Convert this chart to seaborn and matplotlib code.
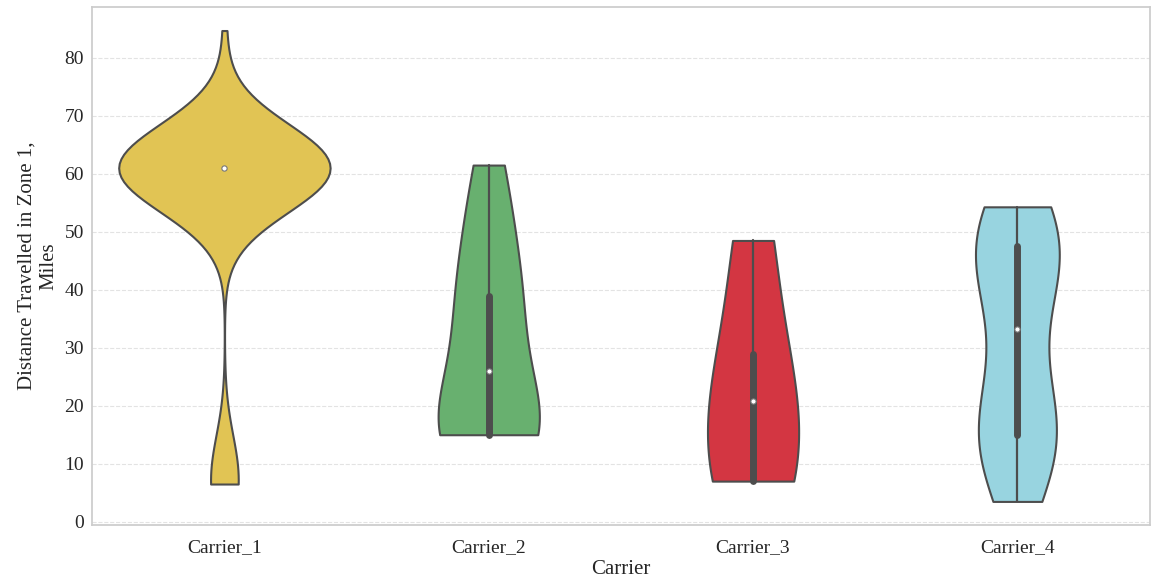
import numpy as np
import pandas as pd
import seaborn as sns
import matplotlib.pyplot as plt

carriers = ["Carrier_1", "Carrier_2", "Carrier_3", "Carrier_4"]
colors = ["#E1C454", "#68B06F", "#D33642", "#98D4E0"]

# Carrier_1 is heavily concentrated around 61 miles, so keep it as value / count pairs
c1_values = [6.5, 8, 11, 60, 61, 62, 84.7]
c1_counts = [6, 1, 1, 4, 52, 4, 1]

c2_values = [15, 15, 15, 15, 15, 17, 26, 34, 37, 39, 47, 53, 61.5]
c3_values = [7, 7, 20.8, 29, 48.5]
c4_values = [3.5, 9, 11, 14, 15, 17.5, 20, 23, 33.3, 39, 42, 45, 47.5, 49, 50.5, 52, 54.3]

c1_all = np.repeat(c1_values, c1_counts)
series = [c1_all, c2_values, c3_values, c4_values]

df = pd.DataFrame({
    "Carrier": np.repeat(carriers, [len(s) for s in series]),
    "Distance": np.concatenate(series),
})

sns.set_theme(style="whitegrid", rc={
    "grid.linestyle": "--",
    "grid.color": "#e3e3e3",
    "grid.linewidth": 0.8,
    "axes.edgecolor": "#cccccc",
})
plt.rcParams["font.family"] = ["Liberation Serif", "DejaVu Serif"]

fig, ax = plt.subplots(figsize=(11.53, 5.82), dpi=100)
fig.subplots_adjust(left=0.08, right=0.997, top=0.988, bottom=0.098)

# no hue, so all violins share one width scale; colour them afterwards
sns.violinplot(
    data=df, x="Carrier", y="Distance", color=colors[0],
    cut=0, inner="box", linewidth=1.5, linecolor="#4d4d4d", saturation=1,
    inner_kws={"box_width": 5, "whis_width": 1.6, "marker": "o"},
    ax=ax,
)
for coll, c in zip(ax.collections, colors):
    coll.set_facecolor(c)

# median dots: white with grey rim
for line in ax.lines:
    if line.get_marker() == "o":
        line.set_markersize(3.8)
        line.set_markerfacecolor("white")
        line.set_markeredgecolor("#777777")
        line.set_markeredgewidth(0.8)

ax.set_xlabel("Carrier", fontsize=15, labelpad=3)
ax.set_ylabel("Distance Travelled in Zone 1,\nMiles", fontsize=15, labelpad=4)
ax.tick_params(axis="both", labelsize=14, length=0, pad=6)
ax.tick_params(axis="x", pad=10)
ax.set_axisbelow(True)

fig.savefig("out.png", dpi=100)
